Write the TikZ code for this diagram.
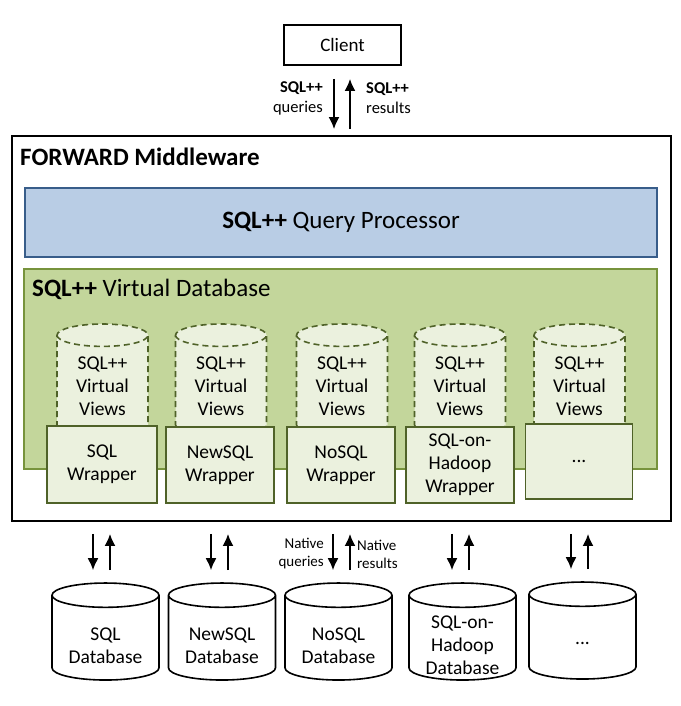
\documentclass[tikz,border=0pt]{standalone}
\usepackage{fontspec}
\setmainfont{Carlito}
\usetikzlibrary{shapes.geometric}
\usetikzlibrary{arrows.meta}

\definecolor{qpfill}{HTML}{B9CDE5}
\definecolor{qpline}{HTML}{385D8A}
\definecolor{vdbfill}{HTML}{C3D69B}
\definecolor{vdbline}{HTML}{77933C}
\definecolor{wrapfill}{HTML}{EBF1DE}
\definecolor{wrapline}{HTML}{4F6228}

\tikzset{
  plainbox/.style={draw, line width=1.8pt, inner sep=0pt},
  viewcyl/.style={cylinder, shape border rotate=90, aspect=0.28, draw=wrapline,
    dash pattern=on 6pt off 4pt, fill=wrapfill, line width=1.6pt, minimum width=91pt,
    minimum height=112pt, inner sep=0pt, text width=80pt, align=center,
    font=\fontsize{19.5}{23}\selectfont},
  wrapbox/.style={draw=wrapline, fill=wrapfill, line width=1.6pt, minimum width=108pt,
    minimum height=76pt, inner sep=0pt, align=center, font=\fontsize{19.5}{23}\selectfont},
  dbcyl/.style={cylinder, shape border rotate=90, aspect=0.27, draw, fill=white,
    line width=1.6pt, minimum width=107pt, minimum height=97pt, inner sep=0pt,
    text width=90pt},
  dbtext/.style={inner sep=0pt, align=center, font=\fontsize{19.5}{23}\selectfont},
  flow/.style={-{Latex[length=12pt,width=11pt]}, line width=1.9pt},
  flowtext/.style={inner sep=0pt, font=\fontsize{16.5}{20}\selectfont}
}

\begin{document}
\begin{tikzpicture}[x=1pt,y=-1pt]
\useasboundingbox (0,0) rectangle (680,706);

% client
\node[plainbox, minimum width=117pt, minimum height=40pt, font=\fontsize{19}{22}\selectfont] (client) at (342.5,45) {Client};

% middleware
\node[plainbox, minimum width=659pt, minimum height=385pt] (mw) at (341.5,328.5) {};
\node[anchor=west, inner sep=0pt, font=\fontsize{25}{28}\selectfont\bfseries] (mwtitle) at (20,157) {FORWARD Middleware};

% query processor
\node[draw=qpline, fill=qpfill, line width=1.6pt, minimum width=632pt, minimum height=69pt, inner sep=0pt, font=\fontsize{25}{28}\selectfont] (qp) at (341,222.5) {\textbf{SQL++} Query Processor};

% virtual database
\node[draw=vdbline, fill=vdbfill, line width=1.6pt, minimum width=633pt, minimum height=200pt, inner sep=0pt] (vdb) at (340.5,369) {};
\node[anchor=west, inner sep=0pt, font=\fontsize{25}{28}\selectfont] (vdbtitle) at (32,289) {\textbf{SQL++} Virtual Database};

% virtual views
\node[viewcyl] (v1) at (102.5,386) {SQL++\\Virtual\\Views};
\node[viewcyl] (v2) at (221,386) {SQL++\\Virtual\\Views};
\node[viewcyl] (v3) at (342,386) {SQL++\\Virtual\\Views};
\node[viewcyl] (v4) at (460,386) {SQL++\\Virtual\\Views};
\node[viewcyl] (v5) at (579.5,386) {SQL++\\Virtual\\Views};

% wrappers
\node[wrapbox, minimum width=110pt, minimum height=77pt] (w1) at (102,464.5) {SQL\\Wrapper};
\node[wrapbox] (w2) at (220,465) {NewSQL\\Wrapper};
\node[wrapbox] (w3) at (341,465) {NoSQL\\Wrapper};
\node[wrapbox] (w4) at (460,465) {SQL-on-\\Hadoop\\Wrapper};
\node[wrapbox, minimum width=107pt, minimum height=75pt] (w5) at (579,461.5) {...};

% databases
\node[dbcyl] (db1) at (105.5,638) {};
\node[dbcyl] (db2) at (222,638) {};
\node[dbcyl] (db3) at (338.5,638) {};
\node[dbcyl] (db4) at (462.5,638) {};
\node[dbcyl] (db5) at (582.5,637) {};
\node[dbtext] (db1text) at (105.5,646) {SQL\\Database};
\node[dbtext] (db2text) at (222,646) {NewSQL\\Database};
\node[dbtext] (db3text) at (338.5,646) {NoSQL\\Database};
\node[dbtext] (db4text) at (462.5,645) {SQL-on-\\Hadoop\\Database};
\node[dbtext] (db5text) at (582.5,643) {...};

% client arrows
\draw[flow, shorten <=13pt, shorten >=6pt] ([xshift=-8.5pt]client.south) -- ([xshift=-8.5pt]client.south |- mw.north);
\draw[flow, shorten <=6pt, shorten >=13pt] ([xshift=7.5pt]client.south |- mw.north) -- ([xshift=7.5pt]client.south);
\node[flowtext, anchor=east, align=right] (sqlq) at (323,98) {\textbf{SQL++}\\queries};
\node[flowtext, anchor=west, align=left] (sqlr) at (366,98) {\textbf{SQL++}\\results};

% native arrows
\draw[flow, shorten <=12pt, shorten >=12pt] ([xshift=-9pt]w1.center |- mw.south) -- ([xshift=-9pt]w1.center |- db1.north);
\draw[flow, shorten <=12pt, shorten >=12pt] ([xshift=8pt]w1.center |- db1.north) -- ([xshift=8pt]w1.center |- mw.south);
\draw[flow, shorten <=12pt, shorten >=12pt] ([xshift=-9pt]w2.center |- mw.south) -- ([xshift=-9pt]w2.center |- db2.north);
\draw[flow, shorten <=12pt, shorten >=12pt] ([xshift=8pt]w2.center |- db2.north) -- ([xshift=8pt]w2.center |- mw.south);
\draw[flow, shorten <=12pt, shorten >=12pt] ([xshift=-8pt]w3.center |- mw.south) -- ([xshift=-8pt]w3.center |- db3.north);
\draw[flow, shorten <=12pt, shorten >=12pt] ([xshift=9pt]w3.center |- db3.north) -- ([xshift=9pt]w3.center |- mw.south);
\draw[flow, shorten <=12pt, shorten >=12pt] ([xshift=-8pt]w4.center |- mw.south) -- ([xshift=-8pt]w4.center |- db4.north);
\draw[flow, shorten <=12pt, shorten >=12pt] ([xshift=9pt]w4.center |- db4.north) -- ([xshift=9pt]w4.center |- mw.south);
\draw[flow, shorten <=12pt, shorten >=12pt] ([xshift=-8pt]w5.center |- mw.south) -- ([xshift=-8pt]w5.center |- db5.north);
\draw[flow, shorten <=12pt, shorten >=12pt] ([xshift=9pt]w5.center |- db5.north) -- ([xshift=9pt]w5.center |- mw.south);
\node[flowtext, anchor=east, align=right, font=\fontsize{15}{18}\selectfont] (natq) at (324,554) {Native\\queries};
\node[flowtext, anchor=west, align=left, font=\fontsize{15}{18}\selectfont] (natr) at (357,554) {Native\\results};

\end{tikzpicture}
\end{document}
